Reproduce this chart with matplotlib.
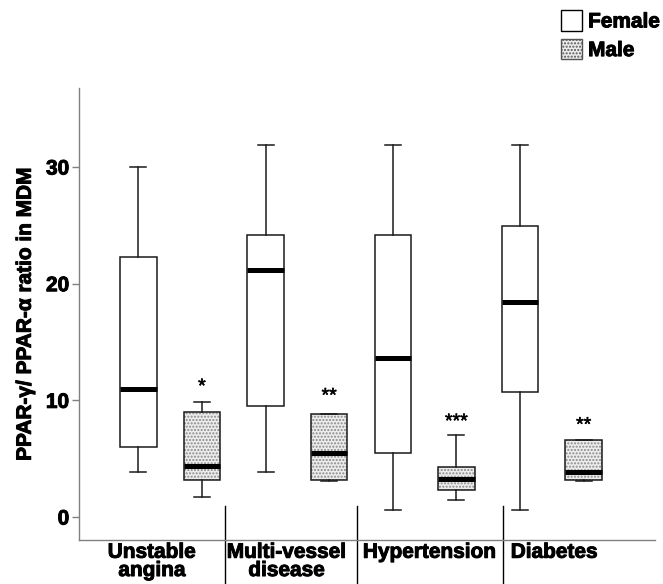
import numpy as np
import matplotlib
matplotlib.use('Agg')
import matplotlib.pyplot as plt
import matplotlib.patheffects as pe
from matplotlib.patches import Patch, Rectangle

plt.rcParams['font.family'] = ['Liberation Sans', 'DejaVu Sans']

groups = ['Unstable\nangina', 'Multi-vessel\ndisease', 'Hypertension', 'Diabetes']

# female boxes: whislo, q1, med, q3, whishi
f_whislo = [3.9, 3.9, 0.6, 0.6]
f_q1 = [6.0, 9.5, 5.45, 10.7]
f_med = [11.0, 21.2, 13.6, 18.45]
f_q3 = [22.25, 24.2, 24.2, 24.9]
f_whishi = [30.0, 31.9, 31.9, 31.9]

# male boxes
m_whislo = [1.7, 3.1, 1.46, 3.1]
m_q1 = [3.17, 3.17, 2.31, 3.17]
m_med = [4.4, 5.5, 3.26, 3.9]
m_q3 = [9.0, 8.8, 4.31, 6.6]
m_whishi = [9.9, 8.8, 7.0, 6.6]

stars = ['*', '**', '***', '**']
star_y = [11.1, 10.3, 8.1, 7.8]

# boundaries between the x labels (SPSS style)
sep_x = [0.43, 1.467, 2.614]
label_x = [-0.143, 0.917, 2.04, 3.02]

heavy = [pe.withStroke(linewidth=0.7, foreground='black')]


def make_stats(lo, q1, med, q3, hi):
    out = []
    for i in range(len(lo)):
        out.append(dict(whislo=lo[i], q1=q1[i], med=med[i], q3=q3[i], whishi=hi[i], fliers=[]))
    return out


fig = plt.figure(figsize=(6.63, 5.84), dpi=100)
ax = fig.add_axes([79 / 663, 1 - 540 / 584, 576 / 663, 452 / 584])

pos = np.arange(len(groups))
bw = 0.287
line_kw = dict(color='#1a1a1a', linewidth=1.1)

ax.bxp(make_stats(f_whislo, f_q1, f_med, f_q3, f_whishi), positions=pos - 0.25, widths=bw,
       showfliers=False, patch_artist=True,
       boxprops=dict(facecolor='white', edgecolor='#1a1a1a', linewidth=1.1),
       whiskerprops=line_kw, capprops=line_kw,
       medianprops=dict(color='black', linewidth=3.6, solid_capstyle='butt'),
       capwidths=0.126, zorder=3)

# stippled fill for the male boxes
for i in range(len(groups)):
    ax.add_patch(Rectangle((pos[i] + 0.25 - bw / 2, m_q1[i]), bw, m_q3[i] - m_q1[i],
                           facecolor='#ececec', edgecolor='#8a8a8a', hatch='.....',
                           linewidth=0, zorder=2))

ax.bxp(make_stats(m_whislo, m_q1, m_med, m_q3, m_whishi), positions=pos + 0.25, widths=bw,
       showfliers=False, patch_artist=True,
       boxprops=dict(facecolor='none', edgecolor='#1a1a1a', linewidth=1.1),
       whiskerprops=line_kw, capprops=line_kw,
       medianprops=dict(color='black', linewidth=3.6, solid_capstyle='butt'),
       capwidths=0.126, zorder=3)

for i in range(len(groups)):
    ax.text(pos[i] + 0.25, star_y[i], stars[i], ha='center', va='center', fontsize=14,
            path_effects=[pe.withStroke(linewidth=0.4, foreground='black')])

ax.set_xlim(-0.716, 3.81)
ax.set_ylim(-1.97, 36.77)
ax.set_yticks([0, 10, 20, 30])
ax.set_yticklabels(['0', '10', '20', '30'], fontsize=15, fontweight='bold')
ax.tick_params(axis='y', length=5, width=1, color='#808080', pad=2)
ax.set_xticks(label_x)
ax.set_xticklabels(groups, fontsize=15, fontweight='bold', linespacing=0.95)
ax.tick_params(axis='x', length=0, pad=2)
for lab in ax.get_xticklabels() + ax.get_yticklabels():
    lab.set_path_effects(heavy)

for s in ['top', 'right']:
    ax.spines[s].set_visible(False)
ax.spines['left'].set_color('#808080')
ax.spines['bottom'].set_color('#808080')
ax.spines['left'].set_linewidth(1)
ax.spines['bottom'].set_linewidth(1)

trans = ax.get_xaxis_transform()
for x in sep_x:
    ax.plot([x, x], [0.075, -0.11], transform=trans, color='black', linewidth=1, clip_on=False)

ax.set_ylabel('PPAR-\u03b3/ PPAR-\u03b1 ratio in MDM', fontsize=15, fontweight='bold', labelpad=8,
              path_effects=heavy)

handles = [Patch(facecolor='white', edgecolor='black', linewidth=1, label='Female'),
           Patch(facecolor='#ececec', edgecolor='#555555', hatch='.....', linewidth=1, label='Male')]
leg = fig.legend(handles=handles, loc='upper left', bbox_to_anchor=(561 / 663, 1 - 10 / 584),
                 frameon=False, handlelength=1.0, handleheight=1.15, handletextpad=0.3,
                 labelspacing=0.35, borderpad=0, borderaxespad=0,
                 prop=dict(family='Liberation Sans', weight='bold', size=15))
for t in leg.get_texts():
    t.set_path_effects(heavy)

fig.savefig('out.png', dpi=100)
